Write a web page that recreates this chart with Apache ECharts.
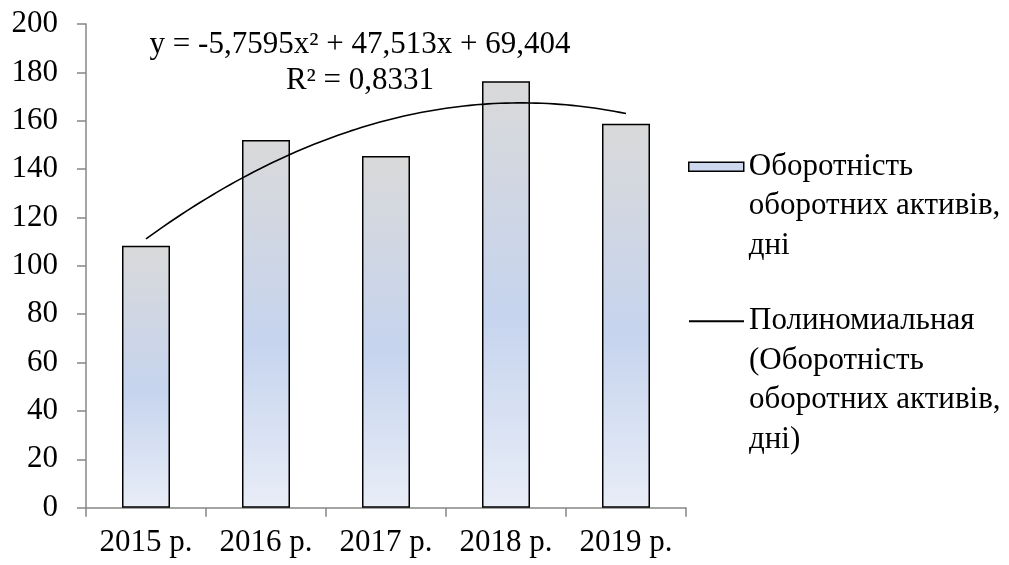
<!DOCTYPE html>
<html>
<head>
<meta charset="utf-8">
<script src="https://cdn.jsdelivr.net/npm/echarts@6/dist/echarts.min.js"></script>
<style>
  html, body { margin: 0; padding: 0; background: #fff; }
  #chart { width: 1009px; height: 565px; }
</style>
</head>
<body>
<div id="chart"></div>
<script>
// Categories and bar values (days of current-asset turnover)
const years = ['2015 р.', '2016 р.', '2017 р.', '2018 р.', '2019 р.'];
const turnoverDays = [108.3, 152.0, 145.4, 176.3, 158.8];

// Polynomial trend coefficients as printed on the chart: a*x^2 + b*x + c
const trendCoef = [-5.7595, 47.513, 69.404];
const trendLabel = 'y = -5,7595x² + 47,513x + 69,404';
const r2Label = 'R² = 0,8331';

const yTicks = { min: 0, max: 200, interval: 20 };

const barName = 'Оборотність\nоборотних активів,\nдні';
const trendName = 'Полиномиальная\n(Оборотність\nоборотних активів,\nдні)';

// Trend curve sampled along the category positions 1..5
const trendPoints = [];
for (let i = 0; i <= 80; i++) {
  const x = 1 + i * 0.05;
  trendPoints.push([x, trendCoef[0] * x * x + trendCoef[1] * x + trendCoef[2]]);
}

const FONT = '"Liberation Serif", "Times New Roman", serif';
const FS = 31;
const LH = 39.5;
const AXIS_GRAY = '#878787';

// Legend text: blank lines in front keep the first text line level with the icon
function padTop(name) {
  const n = name.split('\n').length - 1;
  return '\n'.repeat(n) + name;
}

const chart = echarts.init(document.getElementById('chart'), null, { renderer: 'canvas' });

chart.setOption({
  animation: false,
  backgroundColor: '#fff',
  textStyle: { fontFamily: FONT, color: '#000' },
  grid: { left: 86, right: 323, top: 24, bottom: 57.3, containLabel: false },
  xAxis: [
    {
      type: 'category',
      data: years,
      boundaryGap: true,
      axisLine: { lineStyle: { color: AXIS_GRAY, width: 1.5 } },
      axisTick: { show: true, alignWithLabel: false, interval: 0, length: 9, lineStyle: { color: AXIS_GRAY, width: 1.5 } },
      axisLabel: { fontFamily: FONT, fontSize: FS, color: '#000', margin: 20, interval: 0 }
    },
    {
      type: 'value',
      min: 0.5,
      max: 5.5,
      show: false
    }
  ],
  yAxis: {
    type: 'value',
    min: yTicks.min,
    max: yTicks.max,
    interval: yTicks.interval,
    axisLine: { show: true, lineStyle: { color: AXIS_GRAY, width: 1.5 } },
    axisTick: { show: true, inside: false, length: 9, lineStyle: { color: AXIS_GRAY, width: 1.5 } },
    splitLine: { show: false },
    axisLabel: { fontFamily: FONT, fontSize: FS, color: '#000', margin: 28 }
  },
  legend: [
    {
      orient: 'vertical',
      left: 688,
      top: 68,
      padding: 0,
      itemWidth: 55,
      itemHeight: 9,
      selectedMode: false,
      formatter: padTop,
      textStyle: { fontFamily: FONT, fontSize: FS, color: '#000', lineHeight: LH },
      data: [{
        name: barName,
        icon: 'rect',
        itemStyle: { color: '#cdd8ee', borderColor: '#000', borderWidth: 1.5 }
      }]
    },
    {
      orient: 'vertical',
      left: 688,
      top: 183,
      padding: 0,
      itemWidth: 55,
      itemHeight: 9,
      selectedMode: false,
      formatter: padTop,
      textStyle: { fontFamily: FONT, fontSize: FS, color: '#000', lineHeight: LH },
      data: [{
        name: trendName,
        itemStyle: { color: 'rgba(0,0,0,0)', borderWidth: 0 }
      }]
    }
  ],
  series: [
    {
      name: barName,
      type: 'bar',
      data: turnoverDays,
      barWidth: '40%',
      itemStyle: {
        color: new echarts.graphic.LinearGradient(0, 0, 0, 1, [
          { offset: 0, color: '#d9d9d9' },
          { offset: 0.55, color: '#c6d4ee' },
          { offset: 1, color: '#e8edf7' }
        ]),
        borderColor: '#000',
        borderWidth: 1.5
      }
    },
    {
      name: trendName,
      type: 'line',
      xAxisIndex: 1,
      data: trendPoints,
      showSymbol: false,
      symbol: 'none',
      smooth: false,
      itemStyle: { color: 'rgba(0,0,0,0)' },
      lineStyle: { color: '#000', width: 1.6 },
      z: 5
    }
  ],
  graphic: [
    {
      type: 'text',
      x: 360,
      y: 27,
      style: {
        text: trendLabel + '\n' + r2Label,
        font: FS + 'px ' + FONT,
        fill: '#000',
        align: 'center',
        lineHeight: 36
      }
    }
  ]
});
</script>
</body>
</html>
